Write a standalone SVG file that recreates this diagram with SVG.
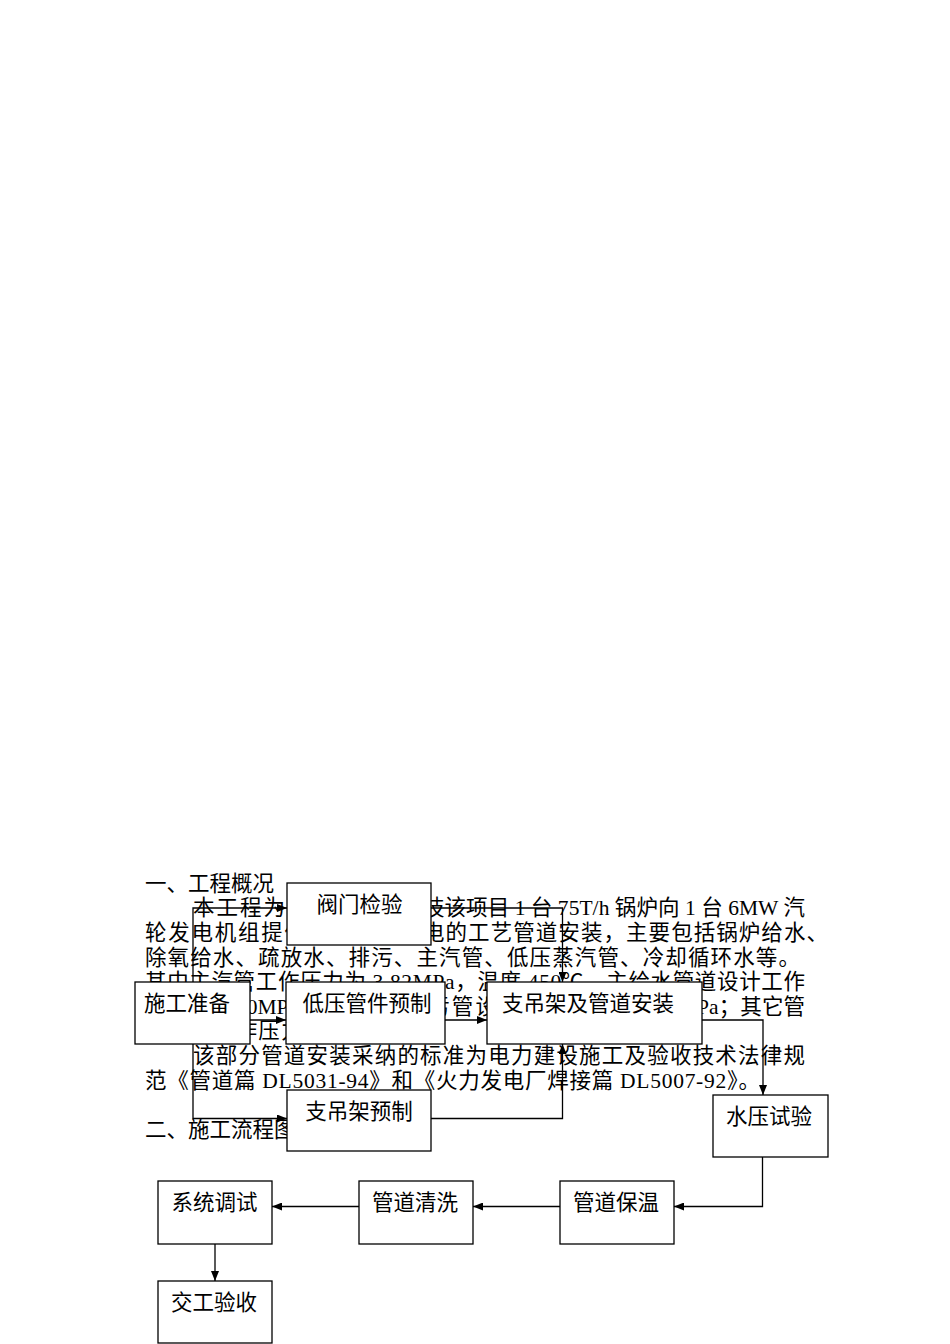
<svg xmlns="http://www.w3.org/2000/svg" width="950" height="1344" viewBox="0 0 950 1344">
<style>
.bg{fill:#fff}
.body{font-family:"Liberation Serif","Noto Sans CJK SC",serif;font-size:21.5px;fill:#000}
.box{fill:#fff;stroke:#000;stroke-width:1.3}
.lbl{font-family:"Liberation Serif","Noto Sans CJK SC",serif;font-size:21.5px;fill:#000;text-anchor:middle}
.conn{fill:none;stroke:#000;stroke-width:1.3}
</style>
<defs>
<marker id="arr" markerUnits="userSpaceOnUse" markerWidth="10" markerHeight="8" refX="10" refY="4" orient="auto">
<path d="M0,0 L10,4 L0,8 Z" fill="#000"/>
</marker>
</defs>
<rect class="bg" x="0" y="0" width="950" height="1344"/>
<g id="body-text">
<text class="body" x="145" y="890.5">一、工程概况</text>
<text class="body" x="193" y="915" textLength="92" lengthAdjust="spacing">本工程为</text>
<text class="body" x="423" y="915" textLength="382" lengthAdjust="spacing">技该项目 1 台 75T/h 锅炉向 1 台 6MW 汽</text>
<text class="body" x="145" y="939.5" textLength="161" lengthAdjust="spacing">轮发电机组提供</text>
<text class="body" x="423" y="939.5" textLength="405" lengthAdjust="spacing">电的工艺管道安装，主要包括锅炉给水、</text>
<text class="body" x="145" y="964.5" textLength="655" lengthAdjust="spacing">除氧给水、疏放水、排污、主汽管、低压蒸汽管、冷却循环水等。</text>
<text class="body" x="145" y="989" textLength="660" lengthAdjust="spacing">其中主汽管工作压力为 3.82MPa，温度 450℃，主给水管道设计工作</text>
<text class="body" x="236" y="1013.5">10MPa</text>
<text class="body" x="428" y="1013.5" textLength="69" lengthAdjust="spacing">污管设</text>
<text class="body" x="697" y="1013.5" textLength="108" lengthAdjust="spacing">Pa；其它管</text>
<text class="body" x="145" y="1038" textLength="157.5" lengthAdjust="spacing">道设计工作压力</text>
<text class="body" x="193" y="1063" textLength="612" lengthAdjust="spacing">该部分管道安装采纳的标准为电力建设施工及验收技术法律规</text>
<text class="body" x="145" y="1087.5" textLength="615" lengthAdjust="spacing">范《管道篇 DL5031-94》和《火力发电厂焊接篇 DL5007-92》。</text>
<text class="body" x="145" y="1136.5">二、施工流程图</text>
</g>
<g id="connectors">
<path class="conn" d="M193,982 V908 H287" marker-end="url(#arr)"/>
<path class="conn" d="M193,1044 V1118.5 H287" marker-end="url(#arr)"/>
<path class="conn" d="M250,1020 H286" marker-end="url(#arr)"/>
<path class="conn" d="M445,1020 H487" marker-end="url(#arr)"/>
<path class="conn" d="M431,908 H562.5 V982" marker-end="url(#arr)"/>
<path class="conn" d="M431,1118.5 H562.5 V1044" marker-end="url(#arr)"/>
<path class="conn" d="M702,1020 H763 V1095" marker-end="url(#arr)"/>
<path class="conn" d="M762.5,1157 V1206.5 H674" marker-end="url(#arr)"/>
<path class="conn" d="M560,1206.5 H473" marker-end="url(#arr)"/>
<path class="conn" d="M359,1206.5 H272" marker-end="url(#arr)"/>
<path class="conn" d="M215,1244 V1281" marker-end="url(#arr)"/>
</g>
<g id="n-valve"><rect class="box" x="287" y="883" width="144" height="62"/><text class="lbl" x="359.5" y="911.5">阀门检验</text></g>
<g id="n-prep"><rect class="box" x="135" y="982" width="115" height="62"/><text class="lbl" x="187" y="1010.5">施工准备</text></g>
<g id="n-lowpipe"><rect class="box" x="286" y="982" width="159" height="62"/><text class="lbl" x="367" y="1010.5">低压管件预制</text></g>
<g id="n-install"><rect class="box" x="487" y="982" width="215" height="62"/><text class="lbl" x="588" y="1010.5">支吊架及管道安装</text></g>
<g id="n-hanger"><rect class="box" x="287" y="1090" width="144" height="61"/><text class="lbl" x="359" y="1118.5">支吊架预制</text></g>
<g id="n-hydro"><rect class="box" x="713" y="1095" width="115" height="62"/><text class="lbl" x="769" y="1123.5">水压试验</text></g>
<g id="n-insul"><rect class="box" x="560" y="1181" width="114" height="63"/><text class="lbl" x="616" y="1209.5">管道保温</text></g>
<g id="n-clean"><rect class="box" x="359" y="1181" width="114" height="63"/><text class="lbl" x="415" y="1209.5">管道清洗</text></g>
<g id="n-debug"><rect class="box" x="158" y="1181" width="114" height="63"/><text class="lbl" x="214.5" y="1209.5">系统调试</text></g>
<g id="n-accept"><rect class="box" x="158" y="1281" width="114" height="62"/><text class="lbl" x="214" y="1309.5">交工验收</text></g>
</svg>
